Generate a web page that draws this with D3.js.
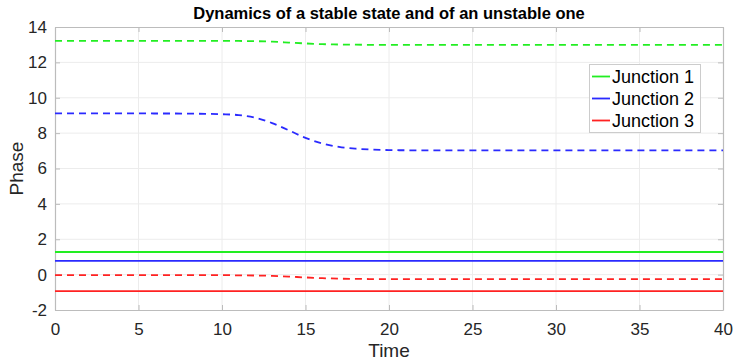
<!DOCTYPE html>
<html>
<head>
<meta charset="utf-8">
<script src="https://cdn.jsdelivr.net/npm/d3@7"></script>
<style>
  html, body { margin: 0; padding: 0; background: #fff; }
  svg { display: block; font-family: "Liberation Sans", Arial, Helvetica, sans-serif; }
</style>
</head>
<body>
<svg id="chart" width="733" height="362"></svg>
<script>
// Time samples (t = 0 .. 40)
const time = d3.range(0, 41);

// Unstable state (dashed): phases of each junction over time
const unstable1 = [13.22,13.22,13.22,13.22,13.22,13.22,13.22,13.22,13.22,13.22,13.22,13.21,13.20,13.17,13.12,13.07,13.03,13.01,13.00,12.99,12.99,
                   12.99,12.99,12.99,12.99,12.99,12.99,12.99,12.99,12.99,12.99,12.99,12.99,12.99,12.99,12.99,12.99,12.99,12.99,12.99,12.99];
const unstable2 = [9.12,9.12,9.12,9.12,9.12,9.12,9.11,9.11,9.10,9.09,9.07,9.02,8.87,8.57,8.16,7.73,7.42,7.22,7.12,7.07,7.04,
                   7.03,7.02,7.02,7.02,7.02,7.02,7.02,7.02,7.02,7.02,7.02,7.02,7.02,7.02,7.02,7.02,7.02,7.02,7.02,7.02];
const unstable3 = [-0.03,-0.03,-0.03,-0.03,-0.03,-0.03,-0.03,-0.03,-0.03,-0.03,-0.03,-0.04,-0.05,-0.07,-0.11,-0.16,-0.20,-0.23,-0.24,-0.25,-0.25,
                   -0.25,-0.25,-0.25,-0.25,-0.25,-0.25,-0.25,-0.25,-0.25,-0.25,-0.25,-0.25,-0.25,-0.25,-0.25,-0.25,-0.25,-0.25,-0.25,-0.25];

// Stable state (solid): constant phases
const stable1 = time.map(() => 1.28);
const stable2 = time.map(() => 0.78);
const stable3 = time.map(() => -0.93);

const seriesNames = ["Junction 1", "Junction 2", "Junction 3"];
const seriesColors = ["#22ee22", "#2a2aff", "#ff2222"];
const xTicks = [0, 5, 10, 15, 20, 25, 30, 35, 40];
const yTicks = [-2, 0, 2, 4, 6, 8, 10, 12, 14];

const svg = d3.select("#chart");
const pLeft = 55, pRight = 723, pTop = 27, pBottom = 310;

const x = d3.scaleLinear().domain([0, 40]).range([pLeft, pRight]);
const y = d3.scaleLinear().domain([-2, 14]).range([pBottom, pTop]);

// Grid lines
const grid = svg.append("g");
grid.selectAll("line.gx").data(xTicks.slice(1, -1)).join("line")
  .attr("x1", d => x(d)).attr("x2", d => x(d))
  .attr("y1", pTop).attr("y2", pBottom)
  .attr("stroke", "#ececec").attr("stroke-width", 1);
grid.selectAll("line.gy").data(yTicks.slice(1, -1)).join("line")
  .attr("x1", pLeft).attr("x2", pRight)
  .attr("y1", d => y(d)).attr("y2", d => y(d))
  .attr("stroke", "#ececec").attr("stroke-width", 1);

// Axes with inward ticks; labels use a plain hyphen for negatives
const axisColor = "#bcbcbc";
const textColor = "#262626";
const plain = d => String(d);
const xAxis = svg.append("g").attr("transform", `translate(0,${pBottom})`)
  .call(d3.axisBottom(x).tickValues(xTicks).tickFormat(plain).tickSizeInner(-5).tickSizeOuter(0).tickPadding(13));
const xAxisTop = svg.append("g").attr("transform", `translate(0,${pTop})`)
  .call(d3.axisTop(x).tickValues(xTicks).tickSizeInner(-5).tickSizeOuter(0).tickFormat(""));
const yAxis = svg.append("g").attr("transform", `translate(${pLeft},0)`)
  .call(d3.axisLeft(y).tickValues(yTicks).tickFormat(plain).tickSizeInner(-5).tickSizeOuter(0).tickPadding(8));
const yAxisRight = svg.append("g").attr("transform", `translate(${pRight},0)`)
  .call(d3.axisRight(y).tickValues(yTicks).tickSizeInner(-5).tickSizeOuter(0).tickFormat(""));

[xAxis, xAxisTop, yAxis, yAxisRight].forEach(g => {
  g.select(".domain").attr("stroke", axisColor).attr("stroke-width", 1.2);
  g.selectAll(".tick line").attr("stroke", axisColor).attr("stroke-width", 1);
  g.selectAll(".tick text").attr("fill", textColor).style("font-size", "17px")
    .style("font-family", "'Liberation Sans', Arial, sans-serif");
});

// Line generator
const line = d3.line().x((d, i) => x(time[i])).y(d => y(d)).curve(d3.curveMonotoneX);

svg.append("clipPath").attr("id", "plotclip")
  .append("rect").attr("x", pLeft).attr("y", pTop).attr("width", pRight - pLeft).attr("height", pBottom - pTop);
const plot = svg.append("g").attr("clip-path", "url(#plotclip)");

const dashed = [unstable1, unstable2, unstable3];
const solid = [stable1, stable2, stable3];

dashed.forEach((s, k) => {
  plot.append("path").datum(s).attr("d", line)
    .attr("fill", "none").attr("stroke", seriesColors[k]).attr("stroke-width", 1.8)
    .attr("stroke-dasharray", "7,5");
});
solid.forEach((s, k) => {
  plot.append("path").datum(s).attr("d", line)
    .attr("fill", "none").attr("stroke", seriesColors[k]).attr("stroke-width", 1.8);
});

// Title and axis labels
svg.append("text").attr("x", (pLeft + pRight) / 2).attr("y", 19)
  .attr("text-anchor", "middle").attr("fill", "#000")
  .style("font-weight", "bold").style("font-size", "16.5px")
  .text("Dynamics of a stable state and of an unstable one");
svg.append("text").attr("x", (pLeft + pRight) / 2).attr("y", 357)
  .attr("text-anchor", "middle").attr("fill", textColor).style("font-size", "19px")
  .text("Time");
svg.append("text").attr("transform", `translate(23,${(pTop + pBottom) / 2}) rotate(-90)`)
  .attr("text-anchor", "middle").attr("fill", textColor).style("font-size", "19px")
  .text("Phase");

// Legend
const lg = svg.append("g");
lg.append("rect").attr("x", 589.5).attr("y", 64.5).attr("width", 111).attr("height", 68)
  .attr("fill", "#fff").attr("stroke", "#cccccc").attr("stroke-width", 1);
seriesNames.forEach((name, i) => {
  const cy = 76.5 + i * 22;
  lg.append("line").attr("x1", 592).attr("x2", 610).attr("y1", cy).attr("y2", cy)
    .attr("stroke", seriesColors[i]).attr("stroke-width", 1.8);
  lg.append("text").attr("x", 612).attr("y", cy + 6.5).attr("fill", "#000")
    .style("font-size", "18px").text(name);
});
</script>
</body>
</html>
